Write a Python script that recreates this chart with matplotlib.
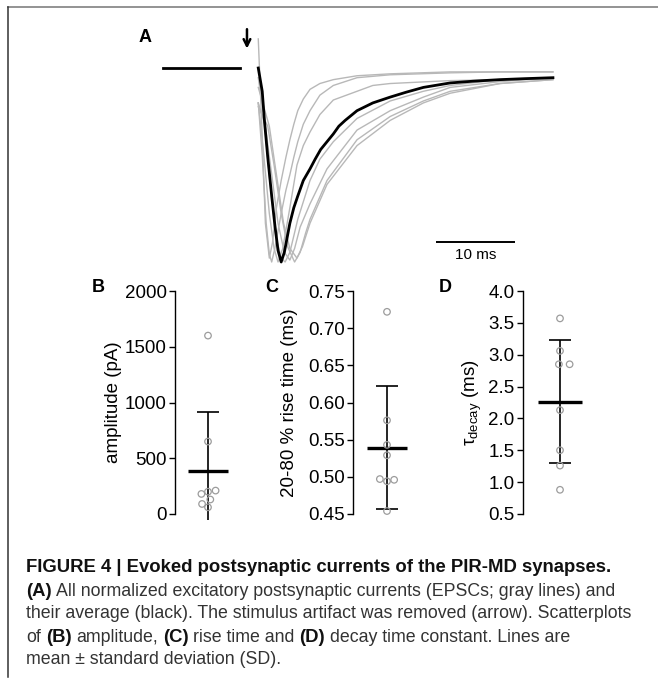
import numpy as np
import matplotlib.pyplot as plt
from matplotlib.ticker import FormatStrFormatter

plt.rcParams['font.family'] = ['Liberation Sans', 'DejaVu Sans']
plt.rcParams['mathtext.fontset'] = 'custom'
plt.rcParams['mathtext.rm'] = 'Liberation Sans'

W, H = 658, 687

# ---- panel A: normalized EPSC traces (time in ms from stimulus, amplitude normalized) ----
pre_t = [-10.8, -1.0]
pre_v = [0.0, 0.0]

avg_t = [1.3, 1.8, 2.1, 2.5, 3.0, 3.4, 3.8, 4.2, 4.6, 5.3, 5.8, 6.3, 7.0, 7.85, 8.5, 9.2, 10.8, 11.5, 12.3,
         13.8, 15.8, 18.0, 20.0, 22.2, 25.6, 28.5, 31.9, 35.0, 38.6]
avg_v = [0.0, -0.12, -0.28, -0.46, -0.66, -0.81, -0.94, -1.0, -0.95, -0.80, -0.72, -0.66, -0.58, -0.52,
         -0.47, -0.42, -0.34, -0.30, -0.27, -0.22, -0.18, -0.15, -0.125, -0.10, -0.077, -0.068, -0.06,
         -0.055, -0.05]

g1_t = [1.3, 1.8, 2.2, 2.7, 3.1, 3.6, 4.2, 4.8, 5.3, 5.8, 6.3, 7.0, 7.85, 9.1, 10.8, 13.8, 18.0, 25.6, 31.9, 38.6]
g1_v = [0.15, -0.35, -0.8, -0.98, -0.9, -0.72, -0.58, -0.46, -0.37, -0.29, -0.22, -0.16, -0.11, -0.08,
        -0.06, -0.04, -0.03, -0.02, -0.02, -0.02]
g2_t = [1.3, 1.8, 2.3, 2.7, 3.0, 3.4, 4.2, 4.8, 5.3, 5.8, 6.3, 7.0, 7.85, 9.1, 10.8, 13.8, 18.0, 25.6, 31.9, 38.6]
g2_v = [-0.18, -0.45, -0.8, -0.96, -1.0, -0.93, -0.75, -0.63, -0.55, -0.46, -0.38, -0.29, -0.22, -0.14,
        -0.09, -0.05, -0.035, -0.025, -0.02, -0.02]
g3_t = [1.3, 2.0, 2.7, 3.3, 3.8, 4.4, 5.3, 6.2, 7.0, 7.85, 9.1, 10.8, 13.8, 15.8, 18.0, 25.6, 31.9, 38.6]
g3_v = [-0.18, -0.45, -0.75, -0.93, -1.0, -0.93, -0.72, -0.5, -0.4, -0.33, -0.24, -0.165, -0.12, -0.09,
        -0.08, -0.065, -0.06, -0.055]
g4_t = [1.3, 2.0, 2.8, 3.6, 4.2, 4.7, 5.3, 6.3, 7.85, 9.1, 10.8, 13.8, 18.0, 22.2, 25.6, 31.9, 38.6]
g4_v = [-0.05, -0.25, -0.6, -0.88, -0.98, -1.0, -0.95, -0.78, -0.58, -0.47, -0.38, -0.26, -0.17, -0.12,
        -0.09, -0.06, -0.05]
g5_t = [1.3, 2.2, 3.0, 3.8, 4.6, 5.3, 5.9, 6.6, 7.85, 10.0, 13.8, 18.0, 22.2, 25.6, 31.9, 38.6]
g5_v = [-0.18, -0.3, -0.55, -0.8, -0.95, -0.99, -0.93, -0.82, -0.7, -0.52, -0.32, -0.22, -0.15, -0.10,
        -0.07, -0.05]
g6_t = [1.3, 2.5, 3.3, 4.2, 5.0, 5.9, 6.6, 7.3, 7.85, 10.0, 13.8, 18.0, 22.2, 25.6, 31.9, 38.6]
g6_v = [-0.2, -0.3, -0.5, -0.75, -0.92, -1.0, -0.95, -0.85, -0.78, -0.58, -0.37, -0.25, -0.17, -0.12,
        -0.08, -0.06]
g7_t = [1.3, 2.7, 3.6, 4.5, 5.3, 6.2, 6.9, 7.85, 10.0, 13.8, 18.0, 22.2, 25.6, 31.9, 38.6]
g7_v = [-0.1, -0.3, -0.55, -0.8, -0.93, -0.98, -0.92, -0.8, -0.6, -0.4, -0.27, -0.18, -0.13, -0.08, -0.06]

scalebar_ms = 10

# ---- panels B-D: individual cells ----
amplitude = [1600, 650, 210, 200, 180, 130, 90, 60]
amp_jitter = [0, 0, 0.23, 0, -0.2, 0.07, -0.18, 0]
rise_time = [0.722, 0.576, 0.543, 0.529, 0.497, 0.494, 0.496, 0.454]
rise_jitter = [0, 0, 0, 0, -0.21, 0, 0.21, 0]
tau_decay = [3.57, 3.06, 2.85, 2.85, 2.13, 1.50, 1.26, 0.88]
tau_jitter = [0, 0, -0.03, 0.26, 0, 0, 0, 0]

caption = [
    [("FIGURE 4 | Evoked postsynaptic currents of the PIR-MD synapses.", 'bold')],
    [("(A)", 'bold'), (" All normalized excitatory postsynaptic currents (EPSCs; gray lines) and", 'normal')],
    [("their average (black). The stimulus artifact was removed (arrow). Scatterplots", 'normal')],
    [("of ", 'normal'), ("(B)", 'bold'), (" amplitude, ", 'normal'), ("(C)", 'bold'), (" rise time and ", 'normal'),
     ("(D)", 'bold'), (" decay time constant. Lines are", 'normal')],
    [("mean \u00b1 standard deviation (SD).", 'normal')],
]


def rect(left, top, right, bottom):
    return [left / W, 1 - bottom / H, (right - left) / W, (bottom - top) / H]


fig = plt.figure(figsize=(W / 100, H / 100), dpi=100)

# frame lines of the figure box
fig.add_artist(plt.Line2D([7.5 / W, 1], [1 - 6.5 / H] * 2, color='#8a8a8a', lw=1.3))
fig.add_artist(plt.Line2D([7.5 / W] * 2, [1 - 6.5 / H, 1 - 677 / H], color='#333333', lw=1.1))

# panel A
x0, px_ms = 248, 7.9
y0, px_amp = 68, 194
axA = fig.add_axes(rect(150, 30, 560, 270))
axA.set_xlim((150 - x0) / px_ms, (560 - x0) / px_ms)
axA.set_ylim(-(270 - y0) / px_amp, -(30 - y0) / px_amp)
axA.axis('off')
for t, v in [(g1_t, g1_v), (g2_t, g2_v), (g3_t, g3_v), (g4_t, g4_v),
             (g5_t, g5_v), (g6_t, g6_v), (g7_t, g7_v)]:
    axA.plot(t, v, color='#b8b8b8', lw=1.0, solid_joinstyle='round')
axA.plot(pre_t, pre_v, color='#b8b8b8', lw=1.0)
axA.plot(pre_t, pre_v, color='black', lw=2.0)
axA.plot(avg_t, avg_v, color='black', lw=2.0, solid_joinstyle='round')
axA.annotate('', xy=(-0.13, 0.10), xytext=(-0.13, 0.20),
             arrowprops=dict(arrowstyle='->', lw=1.8, color='black', mutation_scale=12,
                             shrinkA=0, shrinkB=0))
sb_x = 23.8
axA.plot([sb_x, sb_x + scalebar_ms], [-0.897, -0.897], color='black', lw=1.4, solid_capstyle='butt')
axA.text(sb_x + scalebar_ms / 2, -0.962, f'{scalebar_ms} ms', ha='center', va='center', fontsize=11)
fig.text(145 / W, 1 - 38 / H, 'A', fontsize=13, fontweight='bold', ha='center', va='center')


def scatter_panel(spine_px, center_px, vals, jit, ticks, ylo, fmt, label, label_px, letter, letter_px):
    top, bot = 291, 514
    span = ticks[-1] - ticks[0]
    ppu = (bot - top) / span
    bottom_px = bot + (ticks[0] - ylo) * ppu
    half = center_px - spine_px
    ax = fig.add_axes(rect(spine_px, top, center_px + half, bottom_px))
    ax.set_xlim(-1, 1)
    ax.set_ylim(ylo, ticks[-1])
    for s in ['top', 'right', 'bottom']:
        ax.spines[s].set_visible(False)
    ax.spines['left'].set_bounds(ticks[0], ticks[-1])
    ax.spines['left'].set_linewidth(1.0)
    ax.set_xticks([])
    ax.set_yticks(ticks)
    ax.yaxis.set_major_formatter(FormatStrFormatter(fmt))
    ax.tick_params(axis='y', length=4, width=1.0, pad=2, labelsize=13.5)
    m = np.mean(vals)
    sd = np.std(vals, ddof=1)
    ax.errorbar([0], [m], yerr=[sd], color='black', lw=1.2, capsize=8, capthick=1.2, zorder=2)
    ax.plot([-0.6, 0.6], [m, m], color='black', lw=2.4, solid_capstyle='butt', zorder=3)
    ax.scatter(jit, vals, s=22, facecolors='none', edgecolors='#9c9c9c', linewidths=0.9,
               zorder=4, clip_on=False)
    ax.set_ylabel(label, fontsize=13.5)
    ax.yaxis.set_label_coords((label_px - spine_px) / (2 * half), 0.5 + (bottom_px - bot) / (bottom_px - top) / 2)
    ax.yaxis.label.set_va('center')
    fig.text(letter_px / W, 1 - 287 / H, letter, fontsize=13, fontweight='bold', ha='center', va='center')
    return ax


scatter_panel(175, 208, amplitude, amp_jitter, [0, 500, 1000, 1500, 2000], -55, '%d',
              'amplitude (pA)', 113, 'B', 98)
scatter_panel(353, 387, rise_time, rise_jitter, [0.45, 0.50, 0.55, 0.60, 0.65, 0.70, 0.75], 0.45, '%.2f',
              '20-80 % rise time (ms)', 290, 'C', 272)
axD = scatter_panel(523, 560, tau_decay, tau_jitter, [0.5, 1.0, 1.5, 2.0, 2.5, 3.0, 3.5, 4.0], 0.5, '%.1f',
                    r'τ$_{\mathrm{decay}}$ (ms)', 472, 'D', 445)

# caption, pieced together from bold and regular runs
fig.canvas.draw()
r = fig.canvas.get_renderer()
sizes = {'bold': 13.3, 'normal': 12.8}


def text_w(s, wt):
    tmp = fig.text(0, 0, s, fontsize=sizes[wt], fontweight=wt)
    w = tmp.get_window_extent(r).width
    tmp.remove()
    return w


line_y = [567, 591, 614, 637, 660]
for segs, y in zip(caption, line_y):
    x = 26
    for txt, wt in segs:
        lead = len(txt) - len(txt.lstrip(' '))
        trail = len(txt) - len(txt.rstrip(' '))
        core = txt.strip(' ')
        sp = text_w('a a', wt) - text_w('aa', wt)
        x += lead * sp
        fig.text(x / W, 1 - y / H, core, fontsize=sizes[wt], fontweight=wt,
                 color='#111111' if wt == 'bold' else '#333333', ha='left', va='center')
        x += text_w(core, wt) + trail * sp

fig.savefig('out.png', dpi=100)
